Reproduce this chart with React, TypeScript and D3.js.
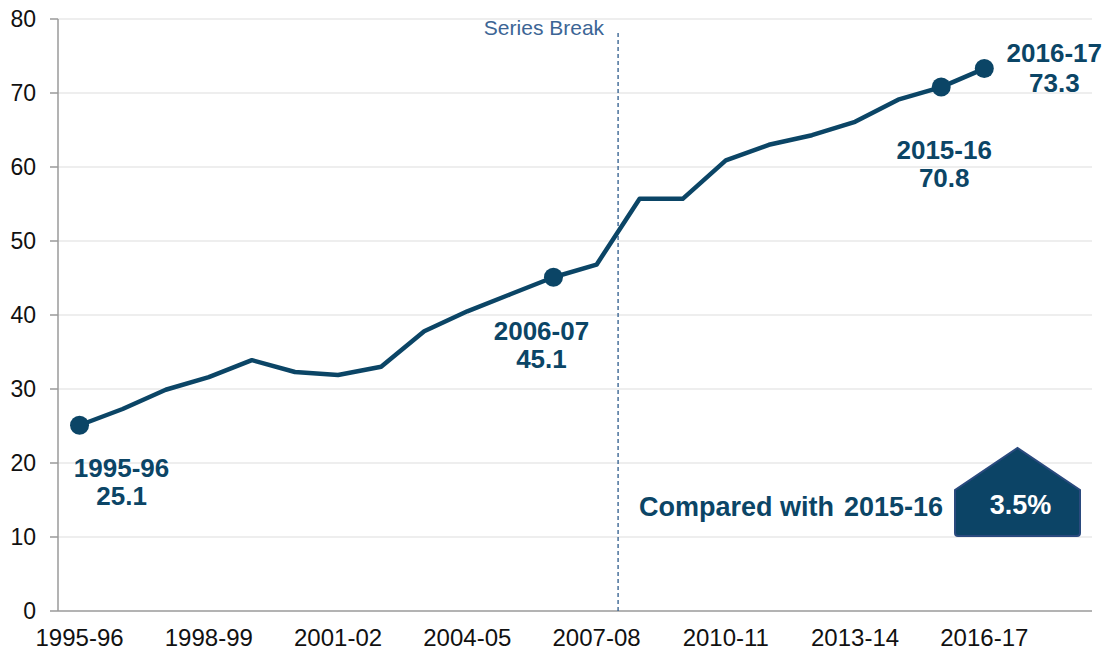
import React from "react";
import * as d3 from "d3";

// financial years on the category axis (two trailing empty slots, as in the source chart)
const years = [
  "1995-96", "1996-97", "1997-98", "1998-99", "1999-00", "2000-01",
  "2001-02", "2002-03", "2003-04", "2004-05", "2005-06", "2006-07",
  "2007-08", "2008-09", "2009-10", "2010-11", "2011-12", "2012-13",
  "2013-14", "2014-15", "2015-16", "2016-17", "2017-18", "2018-19"
];

const values = [
  25.1, 27.3, 29.9, 31.6, 33.9, 32.3, 31.9, 33.0, 37.8, 40.5, 42.8,
  45.1, 46.8, 55.7, 55.7, 60.9, 63.0, 64.3, 66.1, 69.1, 70.8, 73.3
];

const yTicks = [0, 10, 20, 30, 40, 50, 60, 70, 80];
const xTickLabels = ["1995-96", "1998-99", "2001-02", "2004-05", "2007-08", "2010-11", "2013-14", "2016-17"];
const highlighted = ["1995-96", "2006-07", "2015-16", "2016-17"];
const seriesBreakAfter = "2007-08";
const comparedWith = "2015-16";
const changeLabel = "3.5%";

const W = 1112;
const H = 654;
const margin = { top: 19, right: 20, bottom: 43, left: 58 };
const navy = "#0b4566";
const font = "'Liberation Sans', Arial, sans-serif";

export default function App() {
  const x = d3.scaleBand().domain(years).range([margin.left, W - margin.right]);
  const y = d3.scaleLinear().domain([0, 80]).range([H - margin.bottom, margin.top]);
  const cx = (yr: string) => (x(yr) as number) + x.bandwidth() / 2;

  const pts = values.map((v, i) => ({ year: years[i], value: v }));
  const line = d3
    .line<{ year: string; value: number }>()
    .x(d => cx(d.year))
    .y(d => y(d.value));

  const breakX = cx(seriesBreakAfter) + x.bandwidth() / 2;
  const valueOf = (yr: string) => values[years.indexOf(yr)];

  // label offsets relative to each highlighted point
  const labelPos: Record<string, { dx: number; dy: number; gap: number }> = {
    "1995-96": { dx: 42, dy: 52, gap: 28 },
    "2006-07": { dx: -12, dy: 63, gap: 28 },
    "2015-16": { dx: 3, dy: 72, gap: 28 },
    "2016-17": { dx: 70, dy: -7, gap: 30 }
  };

  // badge geometry
  const bx0 = 955, bx1 = 1080, btop = 448, bsh = 490, bbot = 536;
  const badge = `M${bx0},${bbot - 3} L${bx0},${bsh} L${(bx0 + bx1) / 2},${btop} L${bx1},${bsh} L${bx1},${bbot - 3} Q${bx1},${bbot} ${bx1 - 3},${bbot} L${bx0 + 3},${bbot} Q${bx0},${bbot} ${bx0},${bbot - 3} Z`;

  return (
    <svg
      width={W}
      height={H}
      style={{ position: "absolute", left: 0, top: 0, background: "#fff", fontFamily: font }}
    >
      {/* gridlines */}
      {yTicks.slice(1).map(t => (
        <line key={`g${t}`} x1={margin.left} x2={W - margin.right} y1={y(t)} y2={y(t)} stroke="#e8e8e8" strokeWidth={1.5} />
      ))}
      {/* y axis */}
      <line x1={margin.left} x2={margin.left} y1={y(80)} y2={y(0)} stroke="#9a9a9a" strokeWidth={1.5} />
      {yTicks.map(t => (
        <g key={`t${t}`}>
          <line x1={margin.left - 8} x2={margin.left} y1={y(t)} y2={y(t)} stroke="#9a9a9a" strokeWidth={1.5} />
          <text x={margin.left - 22} y={y(t)} dy="0.35em" textAnchor="end" fontSize={23} fill="#111">
            {t}
          </text>
        </g>
      ))}
      {/* x axis */}
      <line x1={margin.left} x2={W - margin.right} y1={y(0)} y2={y(0)} stroke="#9a9a9a" strokeWidth={1.5} />
      {xTickLabels.map(l => (
        <text key={l} x={cx(l)} y={y(0) + 35} textAnchor="middle" fontSize={24} fill="#111">
          {l}
        </text>
      ))}

      {/* series break */}
      <line x1={breakX} x2={breakX} y1={33} y2={y(0)} stroke="#2d5b8c" strokeWidth={1.3} strokeDasharray="4,3" />
      <text x={breakX - 14} y={35} textAnchor="end" fontSize={21} fill="#3c6595">
        Series Break
      </text>

      {/* data line */}
      <path d={line(pts) || ""} fill="none" stroke={navy} strokeWidth={4.5} strokeLinejoin="round" />
      {highlighted.map(yr => {
        const px = cx(yr);
        const py = y(valueOf(yr));
        const o = labelPos[yr];
        return (
          <g key={`h${yr}`}>
            <circle cx={px} cy={py} r={9.5} fill={navy} />
            <text x={px + o.dx} y={py + o.dy} textAnchor="middle" fontSize={26} fontWeight="bold" fill={navy}>
              <tspan x={px + o.dx}>{yr}</tspan>
              <tspan x={px + o.dx} dy={o.gap}>{valueOf(yr).toFixed(1)}</tspan>
            </text>
          </g>
        );
      })}

      {/* comparison */}
      <text x={943} y={516} textAnchor="end" fontSize={27} fontWeight="bold" fill={navy}>
        Compared with
        <tspan dx={10}>{comparedWith}</tspan>
      </text>
      <path d={badge} fill="#0c4466" stroke="#2a4a7e" strokeWidth={2} />
      <text x={(bx0 + bx1) / 2 + 3} y={514} textAnchor="middle" fontSize={27} fontWeight="bold" fill="#fff">
        {changeLabel}
      </text>
    </svg>
  );
}
